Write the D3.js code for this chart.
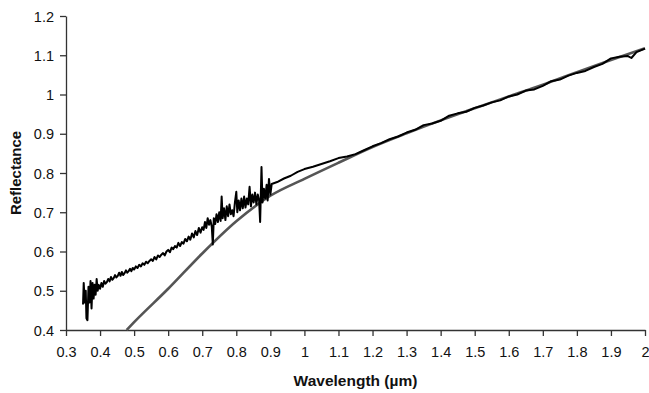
<!DOCTYPE html>
<html>
<head>
<meta charset="utf-8">
<script src="https://cdn.jsdelivr.net/npm/d3@7"></script>
<style>
  body { margin: 0; background: #fff; }
  svg { display: block; }
</style>
</head>
<body>
<div id="chart"></div>
<script>
// Reflectance spectrum vs fitted curve

// x axis ticks (wavelength, µm) and y ticks (reflectance)
const xTicks = [0.3, 0.4, 0.5, 0.6, 0.7, 0.8, 0.9, 1, 1.1, 1.2, 1.3, 1.4, 1.5, 1.6, 1.7, 1.8, 1.9, 2];
const yTicks = [0.4, 0.5, 0.6, 0.7, 0.8, 0.9, 1, 1.1, 1.2];

// measured spectrum, noisy visible part [wavelength, reflectance]
const measuredVis = [
  [0.350, 0.465], [0.352, 0.52], [0.355, 0.47], [0.358, 0.50], [0.360, 0.43],
  [0.363, 0.425], [0.366, 0.51], [0.369, 0.47], [0.372, 0.525], [0.375, 0.455],
  [0.378, 0.52], [0.381, 0.48], [0.384, 0.515], [0.387, 0.49], [0.390, 0.53],
  [0.393, 0.50], [0.396, 0.515], [0.400, 0.505], [0.404, 0.52], [0.408, 0.51],
  [0.412, 0.525], [0.416, 0.518], [0.420, 0.522], [0.424, 0.53], [0.428, 0.524],
  [0.432, 0.535], [0.436, 0.528], [0.440, 0.532], [0.444, 0.54], [0.448, 0.534],
  [0.452, 0.538], [0.456, 0.546], [0.460, 0.538], [0.464, 0.548], [0.468, 0.54],
  [0.472, 0.545], [0.476, 0.552], [0.480, 0.546], [0.484, 0.55], [0.488, 0.556],
  [0.492, 0.55], [0.496, 0.558], [0.500, 0.554], [0.505, 0.562], [0.510, 0.558],
  [0.515, 0.566], [0.520, 0.562], [0.525, 0.57], [0.530, 0.566], [0.535, 0.574],
  [0.540, 0.57], [0.545, 0.576], [0.550, 0.58], [0.555, 0.576], [0.560, 0.586],
  [0.565, 0.58], [0.570, 0.59], [0.575, 0.586], [0.580, 0.592], [0.585, 0.596],
  [0.590, 0.59], [0.595, 0.6], [0.600, 0.604], [0.605, 0.598], [0.610, 0.61],
  [0.615, 0.606], [0.620, 0.614], [0.625, 0.61], [0.630, 0.622], [0.635, 0.614],
  [0.640, 0.624], [0.645, 0.62], [0.650, 0.632], [0.655, 0.626], [0.660, 0.638],
  [0.665, 0.63], [0.670, 0.646], [0.675, 0.636], [0.680, 0.652], [0.685, 0.642],
  [0.690, 0.66], [0.695, 0.648], [0.700, 0.662], [0.704, 0.655], [0.708, 0.675],
  [0.712, 0.66], [0.716, 0.685], [0.720, 0.668], [0.724, 0.68], [0.728, 0.663],
  [0.731, 0.618], [0.734, 0.685], [0.738, 0.67], [0.742, 0.695], [0.746, 0.675],
  [0.750, 0.70], [0.754, 0.678], [0.757, 0.74], [0.760, 0.685], [0.764, 0.71],
  [0.768, 0.68], [0.772, 0.715], [0.776, 0.69], [0.780, 0.72], [0.784, 0.695],
  [0.788, 0.705], [0.792, 0.69], [0.796, 0.725], [0.800, 0.752], [0.803, 0.70],
  [0.807, 0.73], [0.811, 0.705], [0.815, 0.735], [0.819, 0.71], [0.823, 0.74],
  [0.827, 0.712], [0.831, 0.735], [0.835, 0.72], [0.839, 0.765], [0.843, 0.715],
  [0.847, 0.745], [0.851, 0.725], [0.855, 0.75], [0.859, 0.72], [0.863, 0.745],
  [0.867, 0.73], [0.870, 0.675], [0.874, 0.815], [0.877, 0.725], [0.881, 0.76],
  [0.885, 0.735], [0.889, 0.77], [0.892, 0.73], [0.896, 0.785], [0.900, 0.745]
];

// measured spectrum, smooth near-infrared part
const measuredNir = [
  [0.904, 0.772], [0.92, 0.777], [0.94, 0.786], [0.96, 0.793], [0.98, 0.803],
  [1.0, 0.81], [1.025, 0.816], [1.05, 0.823], [1.075, 0.83], [1.1, 0.838],
  [1.125, 0.842], [1.15, 0.848], [1.175, 0.858], [1.2, 0.868], [1.225, 0.876],
  [1.25, 0.886], [1.275, 0.893], [1.3, 0.903], [1.325, 0.91], [1.35, 0.922],
  [1.375, 0.926], [1.4, 0.933], [1.425, 0.946], [1.45, 0.952], [1.475, 0.956],
  [1.5, 0.966], [1.525, 0.972], [1.55, 0.98], [1.575, 0.985], [1.6, 0.995],
  [1.625, 1.0], [1.65, 1.01], [1.675, 1.013], [1.7, 1.022], [1.725, 1.034],
  [1.75, 1.038], [1.775, 1.048], [1.8, 1.055], [1.825, 1.06], [1.85, 1.07],
  [1.875, 1.078], [1.9, 1.092], [1.925, 1.096], [1.95, 1.098], [1.96, 1.093],
  [1.975, 1.108], [2.0, 1.117]
];

// fitted model curve
const fitted = [
  [0.478, 0.40], [0.5, 0.42], [0.6, 0.505], [0.7, 0.595], [0.8, 0.677],
  [0.9, 0.742], [1.0, 0.785], [1.1, 0.826], [1.2, 0.866], [1.3, 0.901],
  [1.4, 0.934], [1.5, 0.965], [1.6, 0.995], [1.7, 1.025], [1.8, 1.057],
  [1.9, 1.088], [2.0, 1.118]
];

const width = 649, height = 393;
const margin = { top: 16, right: 4, bottom: 63, left: 66 };
const innerWidth = width - margin.left - margin.right;
const innerHeight = height - margin.top - margin.bottom;

const svg = d3.select("#chart")
  .append("svg")
  .attr("width", width)
  .attr("height", height);

const g = svg.append("g")
  .attr("transform", `translate(${margin.left},${margin.top})`);

const x = d3.scaleLinear().domain([0.3, 2]).range([0, innerWidth]);
const y = d3.scaleLinear().domain([0.4, 1.2]).range([innerHeight, 0]);

const fontFam = "'Liberation Sans', Arial, sans-serif";

// axes
const xAxis = g.append("g")
  .attr("transform", `translate(0,${innerHeight})`)
  .call(d3.axisBottom(x).tickValues(xTicks).tickSize(6).tickSizeOuter(0).tickFormat(d => d3.format("")(d)));

const yAxis = g.append("g")
  .call(d3.axisLeft(y).tickValues(yTicks).tickSize(6).tickSizeOuter(0).tickFormat(d => d3.format("")(d)));

[xAxis, yAxis].forEach(ax => {
  ax.select(".domain").attr("stroke", "#333").attr("stroke-width", 1.3);
  ax.selectAll(".tick line").attr("stroke", "#333").attr("stroke-width", 1.3);
  ax.selectAll("text")
    .style("font-family", fontFam)
    .style("font-size", "14.5px")
    .attr("fill", "#111");
});
xAxis.selectAll("text").attr("dy", "1.25em");
yAxis.selectAll("text").attr("x", -12).attr("dy", "0.36em");

// lines
const line = d3.line()
  .x(d => x(d[0]))
  .y(d => y(d[1]));

g.append("path")
  .datum(fitted)
  .attr("fill", "none")
  .attr("stroke", "#555")
  .attr("stroke-width", 2.6)
  .attr("d", line.curve(d3.curveMonotoneX));

line.curve(d3.curveLinear);

g.append("path")
  .datum(measuredVis.concat(measuredNir))
  .attr("fill", "none")
  .attr("stroke", "#000")
  .attr("stroke-width", 2)
  .attr("stroke-linejoin", "round")
  .attr("d", line);

// axis titles
svg.append("text")
  .attr("x", margin.left + x(1.15))
  .attr("y", 386)
  .attr("text-anchor", "middle")
  .style("font-family", fontFam)
  .style("font-size", "15.5px")
  .style("font-weight", "bold")
  .attr("fill", "#111")
  .text("Wavelength (µm)");

svg.append("text")
  .attr("transform", `translate(21,${margin.top + y(0.8)}) rotate(-90)`)
  .attr("text-anchor", "middle")
  .style("font-family", fontFam)
  .style("font-size", "15px")
  .style("font-weight", "bold")
  .attr("fill", "#111")
  .text("Reflectance");
</script>
</body>
</html>
